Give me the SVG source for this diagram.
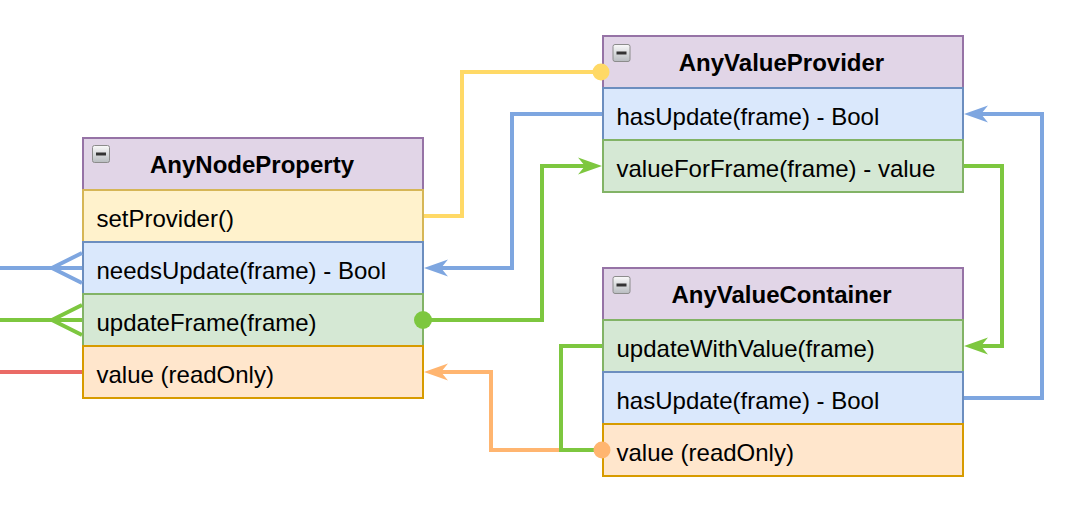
<svg xmlns="http://www.w3.org/2000/svg" width="1082" height="530" viewBox="0 0 1082 530">
  <defs>
    <style>
      text { font-family: "Liberation Sans", Arial, Helvetica, sans-serif; font-size: 24px; fill: #000; }
      .title { font-weight: bold; text-anchor: middle; }
      .hdr { fill: #e1d5e7; stroke: #9673a6; stroke-width: 2; }
      .yel { fill: #fff2cc; stroke: #d6b656; stroke-width: 2; }
      .blu { fill: #dae8fc; stroke: #6c8ebf; stroke-width: 2; }
      .grn { fill: #d5e8d4; stroke: #82b366; stroke-width: 2; }
      .org { fill: #ffe6cc; stroke: #d79b00; stroke-width: 2; }
      .ln { fill: none; stroke-width: 4; stroke-linejoin: miter; }
      .lyel { stroke: #FFD966; }
      .lblu { stroke: #7EA6E0; }
      .lgrn { stroke: #7DC73F; }
      .lorg { stroke: #FFB570; }
      .lred { stroke: #EA6B66; }
      .icon { fill: url(#ig); stroke: #8c8c8c; stroke-width: 1; }
      .dash { stroke: #333; stroke-width: 3; }
    </style>
    <linearGradient id="ig" x1="0" y1="0" x2="0" y2="1">
      <stop offset="0" stop-color="#fafafa"/>
      <stop offset="1" stop-color="#b8bcc0"/>
    </linearGradient>
    <marker id="aBlu" markerUnits="userSpaceOnUse" markerWidth="24" markerHeight="18" viewBox="0 0 24 18" refX="7" refY="9" orient="auto">
      <path d="M24,9 L0,0.5 L7,9 L0,17.5 Z" fill="#7EA6E0"/>
    </marker>
    <marker id="aGrn" markerUnits="userSpaceOnUse" markerWidth="24" markerHeight="18" viewBox="0 0 24 18" refX="7" refY="9" orient="auto">
      <path d="M24,9 L0,0.5 L7,9 L0,17.5 Z" fill="#7DC73F"/>
    </marker>
    <marker id="aOrg" markerUnits="userSpaceOnUse" markerWidth="24" markerHeight="18" viewBox="0 0 24 18" refX="7" refY="9" orient="auto">
      <path d="M24,9 L0,0.5 L7,9 L0,17.5 Z" fill="#FFB570"/>
    </marker>
  </defs>

  <rect width="1082" height="530" fill="#ffffff"/>

  <g id="AnyNodeProperty">
    <rect class="hdr" x="83" y="138" width="340" height="52"/>
    <rect class="icon" x="92.5" y="145.5" width="17" height="17" rx="2"/>
    <line class="dash" x1="96" y1="154" x2="106" y2="154"/>
    <text class="title" x="252" y="173">AnyNodeProperty</text>
    <rect class="yel" x="83" y="190" width="340" height="52"/>
    <text x="96.5" y="227">setProvider()</text>
    <rect class="blu" x="83" y="242" width="340" height="52"/>
    <text x="96.5" y="279">needsUpdate(frame) - Bool</text>
    <rect class="grn" x="83" y="294" width="340" height="52"/>
    <text x="96.5" y="331">updateFrame(frame)</text>
    <rect class="org" x="83" y="346" width="340" height="52"/>
    <text x="96.5" y="383">value (readOnly)</text>
  </g>

  <g id="AnyValueProvider">
    <rect class="hdr" x="603" y="36" width="360" height="52"/>
    <rect class="icon" x="613" y="44.5" width="17" height="17" rx="2"/>
    <line class="dash" x1="616.5" y1="53" x2="626.5" y2="53"/>
    <text class="title" x="781.5" y="71">AnyValueProvider</text>
    <rect class="blu" x="603" y="88" width="360" height="52"/>
    <text x="616.5" y="125">hasUpdate(frame) - Bool</text>
    <rect class="grn" x="603" y="140" width="360" height="52"/>
    <text x="616.5" y="177">valueForFrame(frame) - value</text>
  </g>

  <g id="AnyValueContainer">
    <rect class="hdr" x="603" y="268" width="360" height="52"/>
    <rect class="icon" x="613" y="276.5" width="17" height="17" rx="2"/>
    <line class="dash" x1="616.5" y1="285" x2="626.5" y2="285"/>
    <text class="title" x="781.5" y="303">AnyValueContainer</text>
    <rect class="grn" x="603" y="320" width="360" height="52"/>
    <text x="616.5" y="357">updateWithValue(frame)</text>
    <rect class="blu" x="603" y="372" width="360" height="52"/>
    <text x="616.5" y="409">hasUpdate(frame) - Bool</text>
    <rect class="org" x="603" y="424" width="360" height="52"/>
    <text x="616.5" y="461">value (readOnly)</text>
  </g>

  <g id="connectors">
    <!-- left stubs -->
    <path class="ln lblu" d="M0,268 H82 M82,253 L52,268 L82,283"/>
    <path class="ln lgrn" d="M0,320 H82 M82,305 L52,320 L82,335"/>
    <path class="ln lred" d="M0,372 H82"/>
    <!-- setProvider -> AnyValueProvider -->
    <path class="ln lyel" d="M424,216 H462 V72 H596"/>
    <circle cx="601" cy="72" r="8.5" fill="#FFD966"/>
    <!-- hasUpdate -> needsUpdate -->
    <path class="ln lblu" d="M602,114 H512 V268 H441" marker-end="url(#aBlu)"/>
    <!-- updateFrame -> valueForFrame -->
    <path class="ln lgrn" d="M423,320 H542 V166 H585" marker-end="url(#aGrn)"/>
    <circle cx="423" cy="320" r="9" fill="#7DC73F"/>
    <!-- valueForFrame -> updateWithValue -->
    <path class="ln lgrn" d="M964,166 H1002 V346 H981" marker-end="url(#aGrn)"/>
    <!-- container hasUpdate -> provider hasUpdate -->
    <path class="ln lblu" d="M964,398 H1042 V114 H981" marker-end="url(#aBlu)"/>
    <!-- container value -> node value -->
    <path class="ln lorg" d="M600,450 H491 V372 H441" marker-end="url(#aOrg)"/>
    <!-- updateWithValue -> value -->
    <path class="ln lgrn" d="M602,346 H561 V450 H600"/>
    <circle cx="602" cy="450" r="8.5" fill="#FFB570"/>
  </g>
</svg>
